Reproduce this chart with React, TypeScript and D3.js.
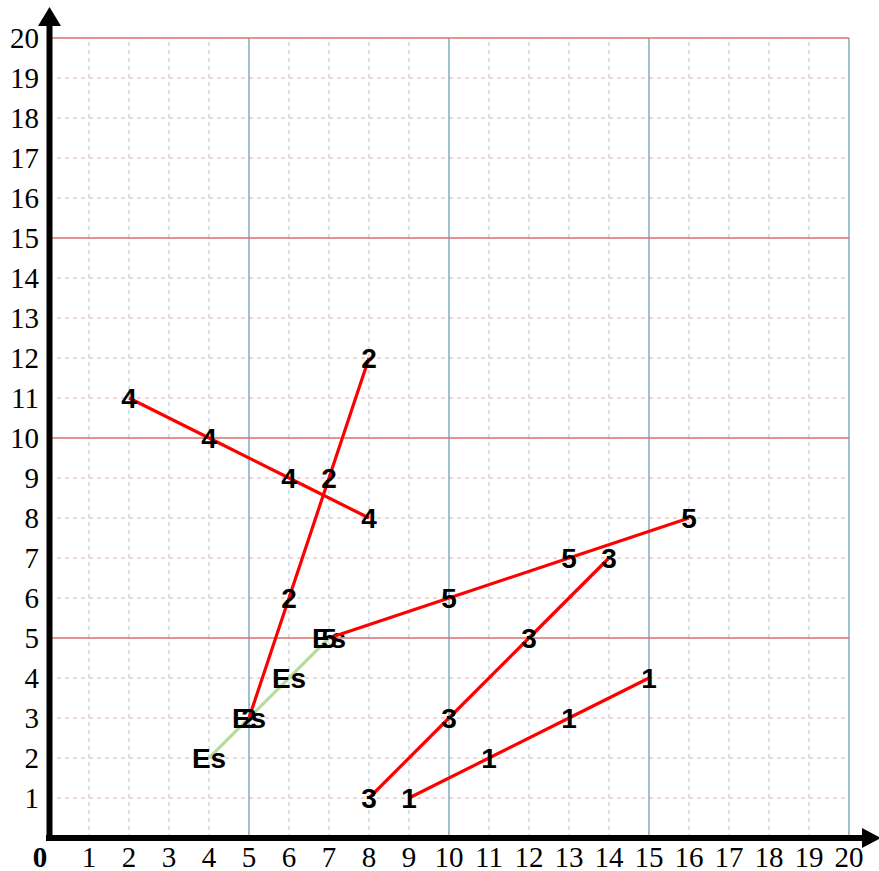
import React from "react";
import * as d3 from "d3";

const ticks = d3.range(1, 21);
const majorTicks = [5, 10, 15, 20];

type Pt = [number, number];
const esPoints: Pt[] = [[4, 2], [5, 3], [6, 4], [7, 5]];
const series1: Pt[] = [[9, 1], [11, 2], [13, 3], [15, 4]];
const series2: Pt[] = [[5, 3], [6, 6], [7, 9], [8, 12]];
const series3: Pt[] = [[8, 1], [10, 3], [12, 5], [14, 7]];
const series4: Pt[] = [[2, 11], [4, 10], [6, 9], [8, 8]];
const series5: Pt[] = [[7, 5], [10, 6], [13, 7], [16, 8]];

const seriesList = [
  { label: "Es", pts: esPoints, color: "#b7dca3" },
  { label: "1", pts: series1, color: "#ff0000" },
  { label: "2", pts: series2, color: "#ff0000" },
  { label: "3", pts: series3, color: "#ff0000" },
  { label: "4", pts: series4, color: "#ff0000" },
  { label: "5", pts: series5, color: "#ff0000" },
];

export default function App() {
  const W = 879, H = 871;
  const x = d3.scaleLinear().domain([0, 20]).range([49, 849]);
  const y = d3.scaleLinear().domain([0, 20]).range([838, 38]);
  const line = d3.line<Pt>().x((d) => x(d[0])).y((d) => y(d[1]));
  const serif = "'Liberation Serif', 'Times New Roman', serif";
  const sans = "'Liberation Sans', Arial, sans-serif";

  return (
    <svg width={W} height={H} style={{ position: "absolute", left: 0, top: 0, background: "#fff" }}>
      {/* grid */}
      {ticks.filter((t) => !majorTicks.includes(t)).map((t) => (
        <line key={"hd" + t} x1={x(0)} x2={x(20)} y1={y(t)} y2={y(t)} stroke="#ebcaca" strokeWidth={1.3} strokeDasharray="4,4" />
      ))}
      {ticks.filter((t) => !majorTicks.includes(t)).map((t) => (
        <line key={"vd" + t} x1={x(t)} x2={x(t)} y1={y(20) + 4} y2={y(0)} stroke="#bcd5de" strokeWidth={1.3} strokeDasharray="4,4" />
      ))}
      {majorTicks.map((t) => (
        <line key={"vm" + t} x1={x(t)} x2={x(t)} y1={y(20)} y2={y(0)} stroke="#7eacbb" strokeWidth={1.5} />
      ))}
      {majorTicks.map((t) => (
        <line key={"hm" + t} x1={x(0)} x2={x(20)} y1={y(t)} y2={y(t)} stroke="#d96f6f" strokeWidth={1.5} />
      ))}

      {/* series */}
      {seriesList.map((s) => (
        <g key={s.label}>
          <path d={line(s.pts) || ""} fill="none" stroke={s.color} strokeWidth={3.2} />
          {s.pts.map((p, i) => (
            <text key={i} x={x(p[0])} y={y(p[1])} dy="0.36em" textAnchor="middle"
              fontFamily={sans} fontWeight="bold" fontSize={28} fill="#000">{s.label}</text>
          ))}
        </g>
      ))}

      {/* axes */}
      <line x1={x(0) + 0.5} x2={x(0) + 0.5} y1={y(0) + 3} y2={24} stroke="#000" strokeWidth={6} />
      <polygon points={`${x(0) + 0.5},7 ${x(0) - 11},26 ${x(0) + 12},26`} fill="#000" />
      <line x1={x(0) - 3} x2={864} y1={y(0)} y2={y(0)} stroke="#000" strokeWidth={6} />
      <polygon points={`881,${y(0)} 862,${y(0) - 10} 862,${y(0) + 10}`} fill="#000" />

      {/* tick labels */}
      {ticks.map((t) => (
        <text key={"yl" + t} x={39} y={y(t)} dy="0.34em" textAnchor="end" fontFamily={serif} fontSize={29} fill="#000">{t}</text>
      ))}
      {ticks.map((t) => (
        <text key={"xl" + t} x={x(t)} y={867} textAnchor="middle" fontFamily={serif} fontSize={29} fill="#000">{t}</text>
      ))}
      <text x={40} y={867} textAnchor="middle" fontFamily={serif} fontWeight="bold" fontSize={29} fill="#000">0</text>
    </svg>
  );
}
